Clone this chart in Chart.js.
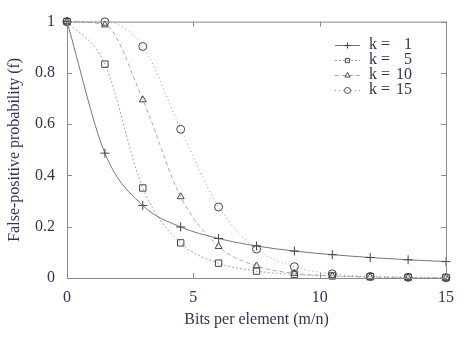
<!DOCTYPE html>
<html lang="en">
<head>
  <meta charset="UTF-8" />
  <title>False-positive probability</title>
  <script src="https://cdn.jsdelivr.net/npm/chart.js"></script>
  <style>
    html, body { margin: 0; padding: 0; background: #fff; }
    #wrap { width: 474px; height: 338px; }
  </style>
</head>
<body>
  <div id="wrap"><canvas id="chart" width="474" height="338"></canvas></div>

  <script>
    // bits per element (m/n) where the markers sit
    const bits = [0, 1.5, 3, 4.5, 6, 7.5, 9, 10.5, 12, 13.5, 15];

    // false-positive probability
    const k1  = [1, 0.487, 0.283, 0.199, 0.154, 0.125, 0.105, 0.091, 0.080, 0.071, 0.064];
    const k5  = [1, 0.834, 0.351, 0.137, 0.058, 0.027, 0.014, 0.008, 0.005, 0.003, 0.002];
    const k10 = [1, 0.987, 0.695, 0.317, 0.123, 0.047, 0.018, 0.008, 0.003, 0.0015, 0.001];
    const k15 = [1, 0.999, 0.903, 0.580, 0.277, 0.113, 0.044, 0.016, 0.006, 0.0025, 0.001];

    const seriesNames = ['k =', 'k =', 'k =', 'k ='];
    const seriesNums = ['1', '5', '10', '15'];

    const xTicks = [0, 5, 10, 15];
    const yTicks = [0, 0.2, 0.4, 0.6, 0.8, 1];

    const ink = '#2f3357';
    const serif = '"Liberation Serif", "DejaVu Serif", serif';

    function pts(ys) {
      return bits.map((b, i) => ({ x: b, y: ys[i] }));
    }

    function serie(label, ys, style, dash, lineColor, radius) {
      return {
        label: label,
        data: pts(ys),
        borderColor: lineColor,
        borderWidth: 1,
        borderDash: dash,
        pointStyle: style,
        pointRadius: radius,
        pointBorderColor: '#444',
        pointBackgroundColor: 'rgba(255,255,255,0)',
        pointBorderWidth: 1,
        cubicInterpolationMode: 'monotone',
        fill: false,
        clip: false
      };
    }

    const datasets = [
      serie('k = 1', k1, 'cross', [], '#777', 4.5),
      serie('k = 5', k5, 'rect', [2, 2], '#aaa', 4.5),
      serie('k = 10', k10, 'triangle', [4, 3], '#aaa', 4),
      serie('k = 15', k15, 'circle', [1, 3], '#999', 4)
    ];

    // gnuplot-like frame with inward ticks on all four sides, plus the key
    const framePlugin = {
      id: 'frame',
      afterDatasetsDraw(chart) {
        const ctx = chart.ctx;
        const a = chart.chartArea;
        const xs = chart.scales.x;
        const ys = chart.scales.y;
        ctx.save();
        ctx.strokeStyle = '#8a8a8a';
        ctx.lineWidth = 1;
        ctx.setLineDash([]);
        ctx.strokeRect(a.left + 0.5, a.top + 0.5, a.right - a.left, a.bottom - a.top);
        ctx.beginPath();
        xTicks.forEach(v => {
          const px = Math.round(xs.getPixelForValue(v)) + 0.5;
          ctx.moveTo(px, a.bottom); ctx.lineTo(px, a.bottom - 5);
          ctx.moveTo(px, a.top); ctx.lineTo(px, a.top + 5);
        });
        yTicks.forEach(v => {
          const py = Math.round(ys.getPixelForValue(v)) + 0.5;
          ctx.moveTo(a.left, py); ctx.lineTo(a.left + 5, py);
          ctx.moveTo(a.right, py); ctx.lineTo(a.right - 5, py);
        });
        ctx.stroke();

        // key
        const x0 = 335, x1 = 360, tx = 369, nx = 412;
        let y = 45;
        ctx.font = '16px ' + serif;
        ctx.textBaseline = 'middle';
        chart.data.datasets.forEach((ds, i) => {
          ctx.strokeStyle = ds.borderColor;
          ctx.setLineDash(ds.borderDash);
          ctx.beginPath();
          ctx.moveTo(x0, y + 0.5); ctx.lineTo(x1, y + 0.5);
          ctx.stroke();
          ctx.setLineDash([]);
          ctx.strokeStyle = ds.pointBorderColor;
          ctx.fillStyle = 'rgba(255,255,255,0)';
          Chart.helpers.drawPoint(ctx, {
            pointStyle: ds.pointStyle, radius: 3, borderWidth: 1, rotation: 0
          }, (x0 + x1) / 2, y + 0.5);
          ctx.fillStyle = ink;
          ctx.textAlign = 'left';
          ctx.fillText(seriesNames[i], tx, y);
          ctx.textAlign = 'right';
          ctx.fillText(seriesNums[i], nx, y);
          y += 15;
        });
        ctx.restore();
      }
    };

    new Chart(document.getElementById('chart'), {
      type: 'line',
      data: { datasets: datasets },
      options: {
        responsive: false,
        animation: false,
        layout: { padding: { top: 19, right: 28, left: 0, bottom: 0 } },
        plugins: { legend: { display: false }, tooltip: { enabled: false } },
        scales: {
          x: {
            type: 'linear',
            min: 0, max: 15,
            afterBuildTicks: s => { s.ticks = xTicks.map(v => ({ value: v })); },
            afterFit: s => { s.height = 60; },
            grid: { display: false, drawTicks: false },
            border: { display: false },
            ticks: { color: ink, padding: 10, font: { family: serif, size: 16 } },
            title: {
              display: true, text: 'Bits per element (m/n)', color: ink,
              font: { family: serif, size: 16 }, padding: { top: 0, bottom: 9 }
            }
          },
          y: {
            min: 0, max: 1,
            afterBuildTicks: s => { s.ticks = yTicks.map(v => ({ value: v })); },
            afterFit: s => { s.width = 67; },
            grid: { display: false, drawTicks: false },
            border: { display: false },
            ticks: {
              color: ink, padding: 12, font: { family: serif, size: 16 },
              callback: v => (v === 0 || v === 1) ? String(v) : v.toFixed(1)
            },
            title: {
              display: true, text: 'False-positive probability (f)', color: ink,
              font: { family: serif, size: 16 }, padding: { top: 5, bottom: 0 }
            }
          }
        }
      },
      plugins: [framePlugin]
    });
  </script>
</body>
</html>
